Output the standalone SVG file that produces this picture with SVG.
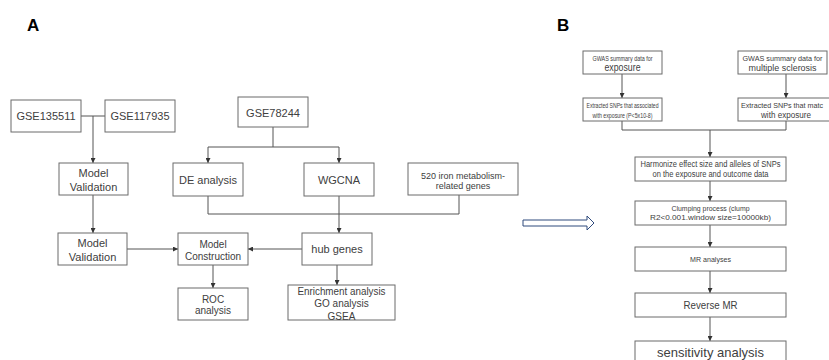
<svg xmlns="http://www.w3.org/2000/svg" width="829" height="360" viewBox="0 0 829 360">
<defs>
<marker id="ah" viewBox="0 0 6 6" refX="6" refY="3" markerWidth="5" markerHeight="5" markerUnits="userSpaceOnUse" orient="auto">
<path d="M0,0 L6,3 L0,6 z" fill="#333"/>
</marker>
<style>
rect.n{fill:#fff;stroke:#6b6b6b;stroke-width:1}
text{font-family:"Liberation Sans",Arial,sans-serif;fill:#404040;text-anchor:middle}
.lab{font-weight:bold;font-size:17px;fill:#000;text-anchor:start}
.c{fill:none;stroke:#555;stroke-width:1}
.ca{fill:none;stroke:#555;stroke-width:1;marker-end:url(#ah)}
.s11{font-size:11px}
.s10{font-size:10px}
.s9{font-size:9px}
</style>
</defs>
<rect width="829" height="360" fill="#fff"/>
<text class="lab" x="27" y="31">A</text>
<text class="lab" x="557" y="31">B</text>

<g id="connectors">
<line class="c" x1="81" y1="116" x2="105" y2="116"/>
<line class="ca" x1="93" y1="116" x2="93" y2="163"/>
<line class="ca" x1="93" y1="195" x2="93" y2="233"/>
<line class="ca" x1="127" y1="249" x2="178" y2="249"/>
<line class="ca" x1="213" y1="265" x2="213" y2="288"/>
<line class="c" x1="273" y1="127" x2="273" y2="147"/>
<line class="c" x1="208" y1="147" x2="339" y2="147"/>
<line class="ca" x1="208" y1="147" x2="208" y2="163"/>
<line class="ca" x1="339" y1="147" x2="339" y2="163"/>
<polyline class="c" points="208,196 208,214 459,214 459,195"/>
<line class="ca" x1="339" y1="196" x2="339" y2="233"/>
<line class="ca" x1="302" y1="249" x2="248" y2="249"/>
<line class="ca" x1="337" y1="265" x2="337" y2="285"/>

<line class="ca" x1="622" y1="74" x2="622" y2="98"/>
<line class="ca" x1="786" y1="74" x2="786" y2="98"/>
<polyline class="c" points="622,121 622,130 786,130 786,121"/>
<line class="ca" x1="710" y1="130" x2="710" y2="157"/>
<line class="ca" x1="710" y1="181" x2="710" y2="201"/>
<line class="ca" x1="710" y1="225" x2="710" y2="247"/>
<line class="ca" x1="710" y1="271" x2="710" y2="293"/>
<line class="ca" x1="710" y1="317" x2="710" y2="341"/>
<polygon points="523,220 587,220 587,216 594,223 587,230 587,226 523,226" fill="#fff" stroke="#2f4a7d" stroke-width="1"/>
</g>

<g id="gse135511"><rect class="n" x="11" y="100" width="70" height="32"/><text class="s11" x="46" y="120">GSE135511</text></g>
<g id="gse117935"><rect class="n" x="105" y="100" width="70" height="32"/><text class="s11" x="140" y="120">GSE117935</text></g>
<g id="model-validation-1"><rect class="n" x="59" y="163" width="69" height="32"/><text class="s11" x="93.5" y="177">Model</text><text class="s11" x="93.5" y="191">Validation</text></g>
<g id="model-validation-2"><rect class="n" x="58" y="233" width="69" height="32"/><text class="s11" x="92.5" y="247">Model</text><text class="s11" x="92.5" y="261">Validation</text></g>
<g id="model-construction"><rect class="n" x="178" y="233" width="70" height="32"/><text class="s10" x="213" y="248">Model</text><text class="s10" x="213" y="260">Construction</text></g>
<g id="roc"><rect class="n" x="178" y="288" width="70" height="32"/><text class="s10" x="213" y="303">ROC</text><text class="s10" x="213" y="314">analysis</text></g>
<g id="gse78244"><rect class="n" x="238" y="97" width="70" height="30"/><text class="s11" x="273" y="117">GSE78244</text></g>
<g id="de"><rect class="n" x="173" y="163" width="70" height="33"/><text class="s11" x="208" y="184">DE analysis</text></g>
<g id="wgcna"><rect class="n" x="304" y="163" width="70" height="33"/><text class="s11" x="339" y="184">WGCNA</text></g>
<g id="iron"><rect class="n" x="408" y="163" width="110" height="32"/><text class="s9" x="463" y="178.5">520 iron metabolism-</text><text class="s9" x="463" y="189">related genes</text></g>
<g id="hub"><rect class="n" x="302" y="233" width="70" height="32"/><text class="s11" x="337" y="253">hub genes</text></g>
<g id="enrichment"><rect class="n" x="288" y="285" width="107" height="35"/><text class="s10" x="341.5" y="294.5" textLength="88" lengthAdjust="spacingAndGlyphs">Enrichment analysis</text><text class="s10" x="341.5" y="306.5">GO analysis</text><text class="s10" x="341.5" y="319.5">GSEA</text></g>

<g id="gwas-exposure"><rect class="n" x="583" y="51" width="79" height="23"/><text x="622.5" y="61" font-size="7.5" textLength="60" lengthAdjust="spacingAndGlyphs">GWAS summary data for</text><text x="622.5" y="71" font-size="10" textLength="36" lengthAdjust="spacingAndGlyphs">exposure</text></g>
<g id="snps-exposure"><rect class="n" x="583" y="98" width="79" height="23"/><text x="622.5" y="107.5" font-size="7.5" textLength="72" lengthAdjust="spacingAndGlyphs">Extracted SNPs that associated</text><text x="622.5" y="117.5" font-size="7.5" textLength="60" lengthAdjust="spacingAndGlyphs">with exposure (P&lt;5x10-8)</text></g>
<g id="gwas-ms"><rect class="n" x="738" y="51" width="89" height="23"/><text x="782.5" y="61" font-size="7.5" textLength="80" lengthAdjust="spacingAndGlyphs">GWAS summary data for</text><text x="782.5" y="71" font-size="9.5" textLength="68" lengthAdjust="spacingAndGlyphs">multiple sclerosis</text></g>
<g id="snps-ms"><rect class="n" x="738" y="98" width="100" height="23"/><text x="741" y="107.5" font-size="7.5" textLength="82" lengthAdjust="spacingAndGlyphs" style="text-anchor:start">Extracted SNPs that matc</text><text x="786" y="117.5" font-size="8.5" textLength="50" lengthAdjust="spacingAndGlyphs">with exposure</text></g>
<g id="harmonize"><rect class="n" x="635" y="157" width="151" height="24"/><text x="710.5" y="167" font-size="8.5" textLength="140" lengthAdjust="spacingAndGlyphs">Harmonize effect size and alleles of SNPs</text><text x="710.5" y="177" font-size="8.5" textLength="116" lengthAdjust="spacingAndGlyphs">on the exposure and outcome data</text></g>
<g id="clumping"><rect class="n" x="635" y="201" width="151" height="24"/><text x="710.5" y="210.5" font-size="8" textLength="78" lengthAdjust="spacingAndGlyphs">Clumping process (clump</text><text x="710.5" y="220" font-size="8" textLength="121" lengthAdjust="spacingAndGlyphs">R2&lt;0.001.window size=10000kb)</text></g>
<g id="mr"><rect class="n" x="635" y="247" width="151" height="24"/><text x="710.5" y="261.5" font-size="7" textLength="41" lengthAdjust="spacingAndGlyphs">MR analyses</text></g>
<g id="reverse-mr"><rect class="n" x="635" y="293" width="151" height="24"/><text x="710.5" y="309" font-size="10.5" textLength="54" lengthAdjust="spacingAndGlyphs">Reverse MR</text></g>
<g id="sensitivity"><rect class="n" x="635" y="341" width="151" height="26"/><text x="710.5" y="357" font-size="13.5" textLength="107" lengthAdjust="spacingAndGlyphs">sensitivity analysis</text></g>
</svg>
